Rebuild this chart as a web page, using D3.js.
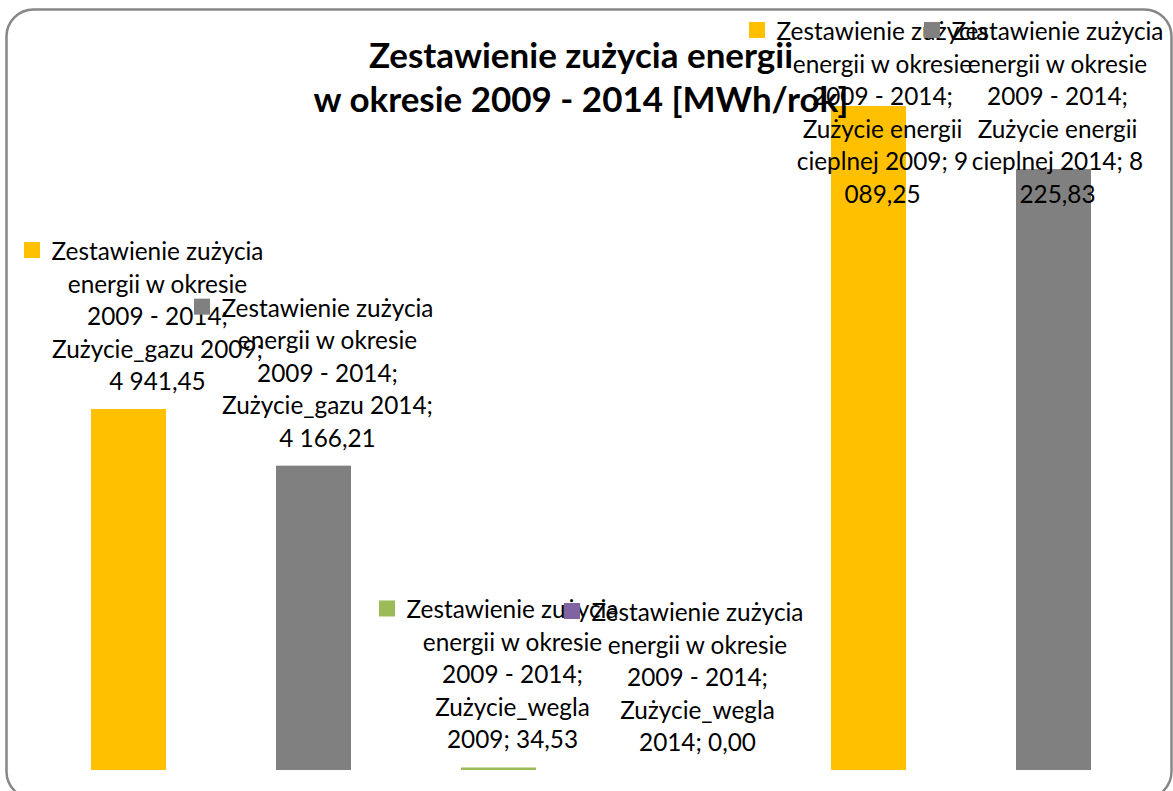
<!DOCTYPE html>
<html><head><meta charset="utf-8">
<script src="https://cdn.jsdelivr.net/npm/d3@7"></script>
<style>html,body{margin:0;padding:0;background:#fff;overflow:hidden}</style>
</head><body>
<svg id="c" width="1173" height="791"></svg>
<script>
// ---- data ----
const titleLines = ["Zestawienie zużycia energii", "w okresie 2009 - 2014 [MWh/rok]"];
const category = "Zestawienie zużycia energii w okresie 2009 - 2014";
const series = ["Zużycie_gazu 2009", "Zużycie_gazu 2014", "Zużycie_wegla 2009", "Zużycie_wegla 2014", "Zużycie energii cieplnej 2009", "Zużycie energii cieplnej 2014"];
const values = [4941.45, 4166.21, 34.53, 0.00, 9089.25, 8225.83];
const colors = ["#FFC000", "#808080", "#9BBB59", "#8064A2", "#FFC000", "#808080"];
const yDomain = [0, 10000];

// ---- layout ----
const svg = d3.select("#c");
const FONT = "Lato, 'Liberation Sans', sans-serif";
svg.append("rect").attr("x", 6.5).attr("y", 9.5).attr("width", 1165).attr("height", 789)
  .attr("rx", 27).attr("fill", "#fff").attr("stroke", "#878787").attr("stroke-width", 2.5);

const x = d3.scaleBand().domain(series).range([36, 1146]).paddingInner(110 / 185).paddingOuter(55 / 185);
const y = d3.scaleLinear().domain(yDomain).range([770, 39.5]);

const pl = d3.formatLocale({decimal: ",", thousands: "\u00a0", grouping: [3], currency: ["", " zł"]});
const fmt = v => pl.format(",.2f")(v).replace(/\u00a0/g, " ");

function measure(txt, size, weight) {
  const t = svg.append("text").attr("font-family", FONT).attr("font-size", size).attr("font-weight", weight || "normal").text(txt);
  const w = t.node().getComputedTextLength(); t.remove(); return w;
}
const labelSize = 100 * 212 / measure("Zestawienie zużycia", 100);
const titleSize = 100 * 535 / measure(titleLines[1], 100, "bold");
const maxW = measure("Zestawienie zużycia", labelSize) + 4;

function wrap(text) {
  const words = text.split(" ");
  const lines = []; let cur = "";
  words.forEach(w => {
    const cand = cur ? cur + " " + w : w;
    if (cur && measure(cand, labelSize) > maxW) { lines.push(cur); cur = w; } else cur = cand;
  });
  if (cur) lines.push(cur);
  return lines;
}

// bars
svg.append("g").selectAll("rect").data(series).join("rect")
  .attr("x", d => x(d)).attr("width", x.bandwidth())
  .attr("y", (d, i) => y(values[i])).attr("height", (d, i) => y(0) - y(values[i]))
  .attr("fill", (d, i) => colors[i]);

// data labels with legend keys
const LH = 32.5;
series.forEach((s, i) => {
  const lines = wrap(category + "; " + s + "; " + fmt(values[i]));
  const xc = x(s) + x.bandwidth() / 2;
  const keyLeft = Math.max(24, Math.min(924, xc - 119.5));
  let first = y(values[i]) - 19 - (lines.length - 1) * LH;
  first = Math.max(40, first);
  const g = svg.append("g");
  g.append("rect").attr("x", keyLeft).attr("y", first - 18).attr("width", 16).attr("height", 16).attr("fill", colors[i]);
  const t = g.append("text").attr("font-family", FONT).attr("font-size", labelSize)
    .attr("text-anchor", "middle").attr("fill", "#000");
  lines.forEach((ln, k) => t.append("tspan").attr("x", keyLeft + 133.5).attr("y", first + k * LH).text(ln));
});

// title
const tt = svg.append("text").attr("font-family", FONT).attr("font-weight", "bold").attr("font-size", titleSize)
  .attr("text-anchor", "middle").attr("fill", "#000");
titleLines.forEach((ln, k) => tt.append("tspan").attr("x", 581).attr("y", 68 + k * 44).text(ln));
</script>
</body></html>
